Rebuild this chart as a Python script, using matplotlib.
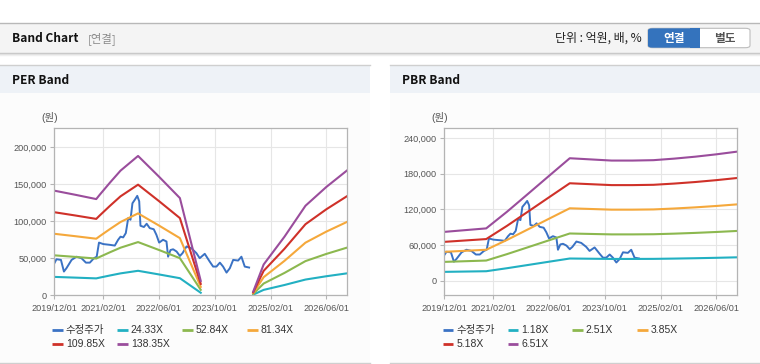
import numpy as np
import pandas as pd
import matplotlib
matplotlib.use('Agg')
import matplotlib.pyplot as plt
import matplotlib.dates as mdates
from matplotlib.patches import Rectangle, FancyBboxPatch
from matplotlib.lines import Line2D
from matplotlib.ticker import FuncFormatter

plt.rcParams['font.family'] = ['Liberation Sans', 'Noto Sans CJK KR', 'DejaVu Sans']

# ---------------- data ----------------
price_dates = ['2019-12-01', '2019-12-20', '2020-01-28', '2020-02-23', '2020-03-16', '2020-04-30',
               '2020-06-12', '2020-07-25', '2020-09-02', '2020-10-06', '2020-11-11', '2020-12-05',
               '2020-12-25', '2021-02-01', '2021-03-29', '2021-05-12', '2021-06-10', '2021-07-01',
               '2021-07-24', '2021-08-16', '2021-09-06', '2021-09-26', '2021-10-13', '2021-11-03',
               '2021-11-24', '2021-12-11', '2021-12-22', '2022-01-21', '2022-02-14', '2022-03-13',
               '2022-04-17', '2022-05-10', '2022-06-03', '2022-07-07', '2022-08-06', '2022-08-20',
               '2022-09-10', '2022-10-03', '2022-11-02', '2022-12-01', '2022-12-24', '2023-01-28',
               '2023-03-11', '2023-04-24', '2023-05-23', '2023-07-06', '2023-08-18', '2023-09-17',
               '2023-10-16', '2023-11-15', '2023-12-13', '2024-01-12', '2024-02-10', '2024-03-10',
               '2024-04-22', '2024-05-21', '2024-06-19', '2024-07-27']
price_values = [43000, 48600, 47700, 32000, 36500, 47700, 52000, 50000, 44000, 44000, 50000, 52000,
                71000, 69000, 68000, 67000, 74800, 79000, 78000, 83800, 104000, 101800, 124000, 128800,
                134000, 126600, 93700, 92000, 96400, 90500, 89000, 81500, 71000, 74800, 72500, 52000,
                61000, 62000, 59000, 53000, 56800, 65800, 63500, 56800, 50000, 55900, 45500, 38700,
                38700, 44000, 38700, 30600, 36500, 47700, 46800, 52000, 38700, 37400]

# PER band: trailing EPS (원) — NaN marks the period with no band (negative earnings)
eps_dates = ['2019-12-01', '2020-06-01', '2020-12-01', '2021-01-01', '2021-04-01', '2021-07-01',
             '2021-12-01', '2022-06-01', '2022-12-01', '2023-06-01', '2024-01-01', '2024-09-01',
             '2024-12-01', '2025-06-01', '2025-12-01', '2026-06-01', '2026-12-01']
eps_values = [1019, 979, 937, 980, 1099, 1214, 1357, 1156, 947, 140, np.nan, 36,
              300, 571, 872, 1055, 1218]
per_multiples = [24.33, 52.84, 81.34, 109.85, 138.35]
per_labels = ['수정주가', '24.33X', '52.84X', '81.34X', '109.85X', '138.35X']

# PBR band: BPS (원)
bps_dates = ['2019-12-01', '2020-12-01', '2021-06-01', '2021-12-01', '2022-06-01', '2022-12-01',
             '2023-06-01', '2023-12-01', '2024-06-01', '2024-12-01', '2025-06-01', '2025-12-01',
             '2026-06-01', '2026-12-01']
bps_values = [12600, 13500, 17800, 22400, 27000, 31600, 31300, 31000, 31000, 31100, 31500, 32000,
              32600, 33300]
pbr_multiples = [1.18, 2.51, 3.85, 5.18, 6.51]
pbr_labels = ['수정주가', '1.18X', '2.51X', '3.85X', '5.18X', '6.51X']

xtick_dates = ['2019-12-01', '2021-02-01', '2022-06-01', '2023-10-01', '2025-02-01', '2026-06-01']
per_yticks = [0, 50000, 100000, 150000, 200000]
pbr_yticks = [0, 60000, 120000, 180000, 240000]

price_color = '#3a72c4'
band_colors = ['#22b0c2', '#8cb84f', '#f5a83b', '#cf3129', '#9a4d9c']

# ---------------- figure ----------------
W, H = 760, 364
fig = plt.figure(figsize=(W / 100, H / 100), dpi=100)
fig.patch.set_facecolor('white')


def fx(x):
    return x / W


def fy(y):
    return 1 - y / H


def rect(x0, y0, x1, y1, fc, ec='none', lw=0, z=-2):
    fig.patches.append(Rectangle((fx(x0), fy(y1)), fx(x1) - fx(x0), fy(y0) - fy(y1),
                                 transform=fig.transFigure, facecolor=fc, edgecolor=ec,
                                 linewidth=lw, zorder=z))


def hline(x0, x1, y, color, lw=1.0, z=-1):
    fig.add_artist(Line2D([fx(x0), fx(x1)], [fy(y), fy(y)], transform=fig.transFigure,
                          color=color, lw=lw, zorder=z))


# top header bar
rect(0, 22.5, 760, 52.5, '#f4f4f4')
hline(0, 760, 22.5, '#b8b8b8')
hline(0, 760, 53.0, '#c4c4c4')
hline(0, 760, 54.0, '#dedede')
hline(0, 760, 55.0, '#efefef')
fig.text(fx(12), fy(38.5), 'Band Chart', fontsize=8.6, fontweight='bold', color='#111111',
         va='center', ha='left', family=['Noto Sans CJK KR'])
fig.text(fx(88), fy(38.5), '[연결]', fontsize=8.2, color='#8a8a8a', va='center', ha='left',
         family=['Noto Sans CJK KR'])
fig.text(fx(642), fy(38.5), '단위 : 억원, 배, %', fontsize=8.6, color='#222222', va='center',
         ha='right', family=['Noto Sans CJK KR'])
# toggle buttons
fig.patches.append(FancyBboxPatch((fx(648), fy(47.7)), fx(750) - fx(648), fy(28.3) - fy(47.7),
                                  boxstyle='round,pad=0,rounding_size=0.006',
                                  transform=fig.transFigure, facecolor='white',
                                  edgecolor='#bdbdbd', linewidth=0.8, zorder=1))
fig.patches.append(FancyBboxPatch((fx(648), fy(47.7)), fx(700) - fx(648), fy(28.3) - fy(47.7),
                                  boxstyle='round,pad=0,rounding_size=0.006',
                                  transform=fig.transFigure, facecolor='#3473bd',
                                  edgecolor='none', linewidth=0, zorder=2))
rect(690, 28.3, 700, 47.7, '#3473bd', z=3)
fig.text(fx(674), fy(38.3), '연결', fontsize=8.4, fontweight='bold', color='white', va='center',
         ha='center', family=['Noto Sans CJK KR'], zorder=5)
fig.text(fx(725), fy(38.3), '별도', fontsize=8.4, fontweight='bold', color='#555555',
         va='center', ha='center', family=['Noto Sans CJK KR'], zorder=5)

# panels
for (x0, x1, title) in [(0, 370, 'PER Band'), (390, 760, 'PBR Band')]:
    rect(x0, 92.5, x1, 362.5, '#fcfcfc')
    rect(x0, 64.5, x1, 92.5, '#eef2f7')
    hline(x0, x1, 64.5, '#cfcfcf')
    hline(x0, x1, 362.5, '#cfcfcf')
    fig.text(fx(x0 + 12), fy(80), title, fontsize=8.6, fontweight='bold', color='#111111',
             va='center', ha='left', family=['Noto Sans CJK KR'])

price_dt = pd.to_datetime(price_dates)
xt = pd.to_datetime(xtick_dates)


def setup_axes(ax, yticks, ylim):
    ax.set_facecolor('white')
    ax.set_xlim(pd.Timestamp('2019-12-01'), pd.Timestamp('2026-12-01'))
    ax.set_ylim(*ylim)
    ax.set_xticks(xt)
    ax.xaxis.set_major_formatter(mdates.DateFormatter('%Y/%m/%d'))
    ax.set_yticks(yticks)
    ax.yaxis.set_major_formatter(FuncFormatter(lambda v, p: f'{int(v):,}'))
    ax.grid(True, color='#e6e6e6', lw=0.8)
    ax.set_axisbelow(True)
    for s in ax.spines.values():
        s.set_color('#b4b4b4')
        s.set_linewidth(0.9)
    ax.tick_params(axis='both', length=3, width=0.8, color='#b4b4b4', labelsize=6.6,
                   labelcolor='#555555')
    ax.tick_params(axis='x', pad=3.5)
    ax.tick_params(axis='y', pad=2.5)


def legend(labels, x0, step):
    colors = [price_color] + band_colors
    for i, (lab, c) in enumerate(zip(labels, colors)):
        col, row = i % 4, i // 4
        x = x0 + col * step
        y = 330.3 + row * 14
        fig.add_artist(Line2D([fx(x), fx(x + 10.5)], [fy(y), fy(y)], transform=fig.transFigure,
                              color=c, lw=2.0, solid_capstyle='butt'))
        fig.text(fx(x + 13.5), fy(y), lab, fontsize=7.5, color='#333333', va='center',
                 ha='left')


# PER axes
ax1 = fig.add_axes([fx(54.3), fy(295.3), (347.3 - 54.3) / W, (295.3 - 128.3) / H])
setup_axes(ax1, per_yticks, (0, 225000))
ax1.plot(price_dt, price_values, color=price_color, lw=1.4)
eps_dt = pd.to_datetime(eps_dates)
eps_arr = np.array(eps_values, dtype=float)
for m, c in zip(per_multiples, band_colors):
    ax1.plot(eps_dt, eps_arr * m, color=c, lw=1.5)
fig.text(fx(50), fy(118), '(원)', fontsize=7.5, color='#555555', va='center', ha='center')
legend(per_labels, 52.3, 65.0)

# PBR axes
ax2 = fig.add_axes([fx(444.3), fy(295.3), (737 - 444.3) / W, (295.3 - 128.3) / H])
setup_axes(ax2, pbr_yticks, (-24500, 256000))
ax2.plot(price_dt, price_values, color=price_color, lw=1.4)
bps_dt = pd.to_datetime(bps_dates)
bps_arr = np.array(bps_values, dtype=float)
for m, c in zip(pbr_multiples, band_colors):
    ax2.plot(bps_dt, bps_arr * m, color=c, lw=1.5)
fig.text(fx(440), fy(118), '(원)', fontsize=7.5, color='#555555', va='center', ha='center')
legend(pbr_labels, 442.7, 64.8)

fig.savefig('out.png', dpi=100)
